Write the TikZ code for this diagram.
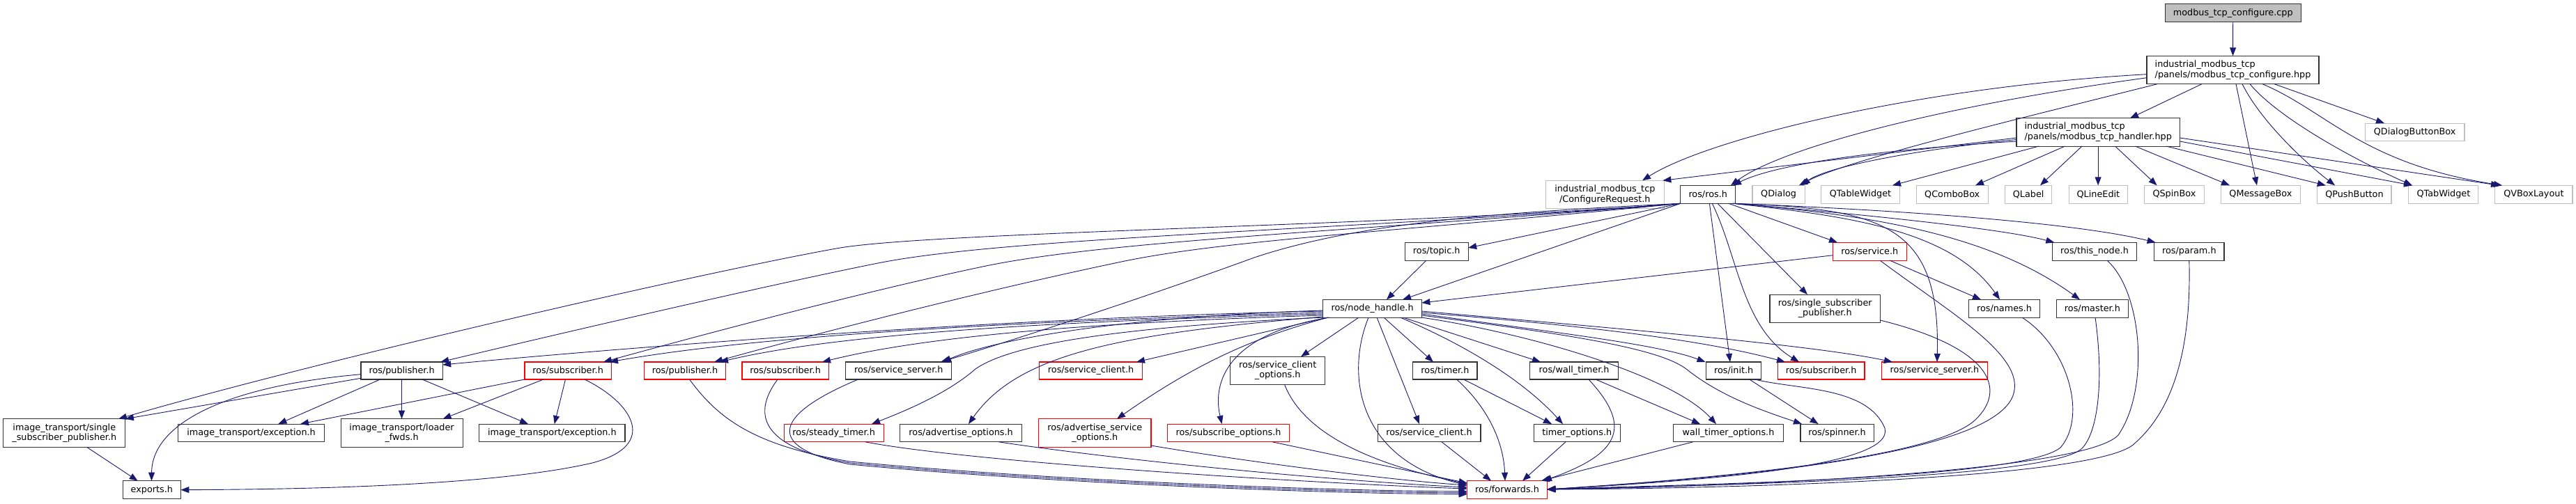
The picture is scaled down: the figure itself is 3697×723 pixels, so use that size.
\documentclass[tikz,border=0pt]{standalone}
\usepackage{fontspec}
\setmainfont{DejaVu Sans}
\usetikzlibrary{arrows.meta}
\definecolor{edgec}{HTML}{191970}
\definecolor{greyb}{HTML}{BFBFBF}
\newcommand\nf{\fontsize{12.8}{14.6}\selectfont}
\newcommand\mynode[7]{\node[#1, minimum width=#5pt, minimum height=#6pt] (#2) at (#3,#4) {#7};}
\begin{document}
\begin{tikzpicture}[x=1pt,y=-1pt,
  nb/.style={draw=black!80, line width=1.1pt, fill=white, inner sep=0pt, outer sep=0pt, font=\nf, align=center},
  ng/.style={nb, draw=greyb},
  nr/.style={nb, draw=red},
  ed/.style={draw=edgec, line width=0.9pt, -{Triangle[length=12pt,width=9pt]}}]
\useasboundingbox[fill=white] (0,0) rectangle (3697,723);
% ---------------- nodes ----------------
\mynode{nb,fill=greyb}{cpp}{3204.7}{18.7}{195}{26}{modbus\_tcp\_configure.cpp}
\mynode{nb,align=left}{conf}{3204.5}{100.5}{247}{40.4}{industrial\_modbus\_tcp\\/panels/modbus\_tcp\_configure.hpp}
\mynode{nb,align=left}{handler}{3011.2}{189.9}{234.5}{40.3}{industrial\_modbus\_tcp\\/panels/modbus\_tcp\_handler.hpp}
\mynode{ng}{qdbb}{3465.6}{189.7}{142.7}{25.3}{QDialogButtonBox}
\mynode{nb}{ros}{2451.2}{279.3}{78.6}{26}{ros/ros.h}
\mynode{ng}{qdialog}{2552.6}{279.3}{75.2}{26}{QDialog}
\mynode{ng}{qtable}{2670}{279.3}{112.3}{26}{QTableWidget}
\mynode{ng}{qcombo}{2801.7}{279.3}{102.8}{26}{QComboBox}
\mynode{ng}{qlabel}{2911.1}{279.3}{66.8}{26}{QLabel}
\mynode{ng}{qline}{3011.4}{279.3}{83.9}{26}{QLineEdit}
\mynode{ng}{qspin}{3120.4}{279.3}{85.3}{26}{QSpinBox}
\mynode{ng}{qmsg}{3244.4}{279.3}{114.7}{26}{QMessageBox}
\mynode{ng}{qpush}{3378.9}{279.3}{106.2}{26}{QPushButton}
\mynode{ng}{qtab}{3506.9}{279.3}{100}{26}{QTabWidget}
\mynode{ng}{qvbox}{3636.4}{279.3}{111.1}{26}{QVBoxLayout}
\mynode{ng}{confreq}{2303.3}{279.3}{170.1}{40}{industrial\_modbus\_tcp\\/ConfigureRequest.h}
\mynode{nb}{topic}{2061.7}{361.2}{90.9}{25.7}{ros/topic.h}
\mynode{nr}{service}{2683.3}{361.2}{105.6}{25.7}{ros/service.h}
\mynode{nb}{thisnode}{3006}{361.2}{121.4}{25.7}{ros/this\_node.h}
\mynode{nb}{param}{3141.8}{361.2}{100.4}{25.7}{ros/param.h}
\mynode{nb}{nodeh}{1969.6}{443.2}{141.5}{25.7}{ros/node\_handle.h}
\mynode{nb}{singlesub}{2619.2}{443.2}{158.5}{40.3}{ros/single\_subscriber\\\_publisher.h}
\mynode{nb}{names}{2876.5}{443.2}{102.8}{25.7}{ros/names.h}
\mynode{nb}{master}{3002.9}{443.2}{102.6}{25.7}{ros/master.h}
\mynode{nb}{pubB}{576.6}{532.5}{117.2}{25}{ros/publisher.h}
\mynode{nr}{subRa}{815.1}{532.5}{124.2}{25}{ros/subscriber.h}
\mynode{nr}{pubR}{983}{532.5}{117.5}{25}{ros/publisher.h}
\mynode{nr}{subRb}{1127.1}{532.5}{124.2}{25}{ros/subscriber.h}
\mynode{nb}{ssB}{1289.8}{532.5}{151.9}{25}{ros/service\_server.h}
\mynode{nr}{scR}{1565.6}{532.5}{148.3}{25}{ros/service\_client.h}
\mynode{nb}{sco}{1833.7}{532.3}{135.8}{40}{ros/service\_client\\\_options.h}
\mynode{nb}{timer}{2073.9}{532.5}{92.1}{25}{ros/timer.h}
\mynode{nb}{walltimer}{2259.1}{532.5}{126.5}{25}{ros/wall\_timer.h}
\mynode{nb}{init}{2488.2}{532.5}{79.1}{25}{ros/init.h}
\mynode{nr}{subRc}{2613.7}{532.5}{124.6}{25}{ros/subscriber.h}
\mynode{nr}{ssR}{2776.5}{532.5}{151.9}{25}{ros/service\_server.h}
\mynode{nb}{itsingle}{92.3}{622}{175.2}{40.6}{image\_transport/single\\\_subscriber\_publisher.h}
\mynode{nb}{itexca}{360.6}{621.9}{209.6}{25.7}{image\_transport/exception.h}
\mynode{nb}{itloader}{576.6}{622}{175}{40.6}{image\_transport/loader\\\_fwds.h}
\mynode{nb}{itexcb}{792.4}{621.9}{209.2}{25.7}{image\_transport/exception.h}
\mynode{nr}{steady}{1196.6}{621.9}{142.9}{25.7}{ros/steady\_timer.h}
\mynode{nb}{advopt}{1379.1}{621.9}{174.8}{25.7}{ros/advertise\_options.h}
\mynode{nr}{advsrv}{1571.3}{622}{161.4}{40.6}{ros/advertise\_service\\\_options.h}
\mynode{nr}{subopt}{1763}{621.9}{174.5}{25.7}{ros/subscribe\_options.h}
\mynode{nb}{scB}{2051}{621.9}{147.9}{25.7}{ros/service\_client.h}
\mynode{nb}{timeropt}{2263.2}{621.9}{123.8}{25.7}{timer\_options.h}
\mynode{nb}{walltimeropt}{2480.5}{621.9}{158.5}{25.7}{wall\_timer\_options.h}
\mynode{nb}{spinner}{2636.5}{621.9}{105.1}{25.7}{ros/spinner.h}
\mynode{nb}{exports}{217.9}{703.7}{83}{26}{exports.h}
\mynode{nr}{forwards}{2163}{703.7}{114.7}{26}{ros/forwards.h}
% ---------------- edges ----------------
\draw[ed] (cpp) -- (conf);
\draw[ed] (conf.south -| 3160,0) -- (handler.north -| 3057,0);
\draw[ed] (conf.south -| 3209,0) -- (qmsg.north -| 3239,0);
\draw[ed] (conf.south -| 3218,0) .. controls (3245,175) and (3310,235) .. (qpush.north -| 3351,0);
\draw[ed] (conf.south -| 3229,0) .. controls (3270,170) and (3380,230) .. (qtab.north -| 3462,0);
\draw[ed] (conf.south -| 3247,0) .. controls (3340,160) and (3390,235) .. (qvbox.north -| 3591,0);
\draw[ed] (conf.south -| 3264,0) -- (qdbb.north -| 3422,0);
\draw[ed] (conf.west |- 0,106.7) .. controls (2750,125) and (2450,200) .. (confreq.north -| 2357,0);
\draw[ed] (conf.west |- 0,111.7) .. controls (2800,150) and (2560,210) .. (ros.north -| 2484,0);
\draw[ed] (conf.south -| 3096,0) .. controls (2900,170) and (2650,230) .. (qdialog.north -| 2582,0);
\draw[ed] (handler.west |- 0,198) -- ([xshift=-2pt]confreq.north east);
\draw[ed] (handler.west |- 0,203) .. controls (2700,215) and (2550,235) .. (ros.north -| 2487,0);
\draw[ed] (handler.west |- 0,200.5) .. controls (2750,215) and (2620,240) .. (qdialog.north -| 2586,0);
\draw[ed] (handler.south -| 2926,0) -- (qtable.north -| 2716,0);
\draw[ed] (handler.south -| 2963.5,0) -- (qcombo.north -| 2835,0);
\draw[ed] (handler.south -| 2988,0) -- (qlabel.north -| 2928,0);
\draw[ed] (handler.south -| 3011.1,0) -- (qline.north -| 3011.1,0);
\draw[ed] (handler.south -| 3035.6,0) -- (qspin.north -| 3095.6,0);
\draw[ed] (handler.south -| 3064.4,0) -- (qmsg.north -| 3200,0);
\draw[ed] (handler.south -| 3108.9,0) -- (qpush.north -| 3337.8,0);
\draw[ed] (handler.east |- 0,203) -- (qtab.north -| 3462,0);
\draw[ed] (handler.east |- 0,198) -- (qvbox.north -| 3587,0);
% ros.h
\draw[ed] (ros.south -| 2453.4,0) -- (init.north -| 2483,0);
\draw[ed] (ros.south -| 2457.3,0) .. controls (2495,370) and (2500,470) .. (subRc.north -| 2582,0);
\draw[ed] (ros.south -| 2465,0) -- (singlesub.north -| 2594,0);
\draw[ed] (ros.south -| 2481,0) -- (service.north -| 2637,0);
\draw[ed] (ros.south -| 2486,0) .. controls (2700,300) and (2785,320) .. (ssR.north -| 2780,0);
\draw[ed] (ros.south -| 2487,0) .. controls (2650,310) and (2800,330) .. (names.north -| 2870,0);
\draw[ed] (ros.south -| 2488,0) .. controls (2700,310) and (2860,340) .. (master.north -| 2985,0);
\draw[ed] (ros.south -| 2489,0) .. controls (2700,310) and (2880,330) .. ([xshift=3pt]thisnode.north west);
\draw[ed] (ros.south -| 2490,0) .. controls (2800,305) and (3000,325) .. ([xshift=2pt]param.north west);
\draw[ed] (ros.south west) -- (topic.east |- 0,356);
\draw[ed] (ros.south west) -- (nodeh.north -| 2013,0);
\draw[ed] (ros.south west) .. controls (2000,325) and (1330,333) .. (1200,357) .. controls (1000,393) and (450,520) .. (itsingle.north -| 170,0);
\draw[ed] (ros.south west) .. controls (1950,330) and (1450,340) .. (1260,378) .. controls (1100,410) and (800,480) .. ([xshift=-3pt]pubB.north east);
\draw[ed] (ros.south west) .. controls (1950,332) and (1600,345) .. (1420,381) .. controls (1250,416) and (1000,483) .. (subRa.north -| 866,0);
\draw[ed] (ros.south west) .. controls (1980,335) and (1750,345) .. (1600,378) .. controls (1400,420) and (1150,485) .. (pubR.north -| 1025,0);
\draw[ed] (ros.south west) .. controls (2150,305) and (1950,320) .. (1800,370) .. controls (1650,425) and (1450,490) .. (ssB.north -| 1350,0);
% node_handle.h
\draw[ed] (topic.south -| 2047,0) -- (nodeh.north -| 1990,0);
\draw[ed] (service.west |- 0,366.7) -- (nodeh.east |- 0,435);
\draw[ed] (service.south -| 2712,0) -- (names.north -| 2843,0);
\draw[ed] (nodeh.west |- 0,447) .. controls (1500,455) and (1000,490) .. (pubB.east |- 0,524);
\draw[ed] (nodeh.west |- 0,449) .. controls (1500,460) and (1100,480) .. (subRa.north -| 875,0);
\draw[ed] (nodeh.west |- 0,451) .. controls (1500,462) and (1200,480) .. (pubR.north -| 1033,0);
\draw[ed] (nodeh.west |- 0,453) .. controls (1500,465) and (1300,490) .. (subRb.north -| 1180,0);
\draw[ed] (nodeh.west |- 0,446) .. controls (1600,455) and (1420,490) .. (ssB.north -| 1353,0);
\draw[ed] (nodeh.south -| 1905,0) -- (scR.north -| 1631,0);
\draw[ed] (nodeh.south -| 1906,0) .. controls (1800,485) and (1720,520) .. (advsrv.north -| 1603,0);
\draw[ed] (nodeh.south -| 1908,0) .. controls (1760,480) and (1740,550) .. (subopt.north -| 1753.6,0);
\draw[ed] (nodeh.west |- 0,455) .. controls (1600,480) and (1460,510) .. (advopt.north -| 1390,0);
\draw[ed] (nodeh.south west) .. controls (1600,470) and (1450,495) .. (1400,530) .. controls (1360,565) and (1300,590) .. (steady.north -| 1251,0);
\draw[ed] (nodeh.south -| 1950,0) -- (sco.north -| 1867,0);
\draw[ed] (nodeh.south -| 1964,0) .. controls (1930,540) and (1950,660) .. (forwards.west |- 0,697);
\draw[ed] (nodeh.south -| 1976,0) -- (scB.north -| 2037,0);
\draw[ed] (nodeh.south -| 1986,0) -- (timer.north -| 2057,0);
\draw[ed] (nodeh.south -| 2009.6,0) .. controls (2090,490) and (2180,540) .. (timeropt.north -| 2243,0);
\draw[ed] (nodeh.south -| 2013.5,0) -- (walltimer.north -| 2211,0);
\draw[ed] (nodeh.east |- 0,447) .. controls (2300,470) and (2600,495) .. (ssR.north -| 2716,0);
\draw[ed] (nodeh.east |- 0,449) .. controls (2300,470) and (2450,490) .. (subRc.north -| 2562,0);
\draw[ed] (nodeh.east |- 0,451) .. controls (2250,480) and (2380,495) .. (init.north -| 2447.5,0);
\draw[ed] (nodeh.east |- 0,453) .. controls (2250,480) and (2380,500) .. (2420,530) .. controls (2470,570) and (2530,590) .. (spinner.north -| 2586,0);
\draw[ed] (nodeh.south east) .. controls (2200,480) and (2400,540) .. (walltimeropt.north -| 2463,0);
% to forwards.h
\draw[ed] (service.south -| 2698,0) .. controls (2800,450) and (2905,510) .. (2890,565) .. controls (2870,640) and (2600,680) .. (forwards.east |- 0,703);
\draw[ed] (singlesub.east |- 0,460) .. controls (2860,500) and (2880,560) .. (2835,603) .. controls (2780,655) and (2500,685) .. (forwards.east |- 0,703);
\draw[ed] (init.south -| 2518.6,0) .. controls (2580,560) and (2680,555) .. (2705,615) .. controls (2720,670) and (2450,690) .. (forwards.east |- 0,703);
\draw[ed] (names.south -| 2902,0) .. controls (2970,500) and (2995,600) .. (2957,643) .. controls (2900,690) and (2400,696) .. (forwards.east |- 0,703);
\draw[ed] (master.south -| 3007,0) .. controls (3020,550) and (3010,620) .. (2989,643) .. controls (2950,690) and (2400,698) .. (forwards.east |- 0,703);
\draw[ed] (thisnode.south -| 3024,0) .. controls (3075,420) and (3085,560) .. (3040,625) .. controls (2990,680) and (2450,700) .. (forwards.east |- 0,703);
\draw[ed] (param.south) .. controls (3145,500) and (3120,590) .. (3060,640) .. controls (2990,690) and (2450,702) .. (forwards.east |- 0,703);
\draw[ed] (walltimer.south -| 2280,0) .. controls (2340,610) and (2330,650) .. (forwards.north -| 2215,0);
\draw[ed] (walltimeropt.south -| 2430,0) -- (forwards.north -| 2212,0);
\draw[ed] (timeropt.south -| 2247,0) -- (forwards.north -| 2185,0);
\draw[ed] (timer.south -| 2090.6,0) .. controls (2140,590) and (2158,640) .. (forwards.north -| 2160,0);
\draw[ed] (timer.south -| 2100.5,0) -- (timeropt.north -| 2227,0);
\draw[ed] (scB.south -| 2069,0) -- (forwards.north -| 2140,0);
\draw[ed] (walltimer.south -| 2290,0) -- (walltimeropt.north -| 2440,0);
\draw[ed] (init.south -| 2510.7,0) -- (spinner.north -| 2609.6,0);
\draw[ed] (sco.south -| 1843.5,0) .. controls (1870,620) and (1960,665) .. (forwards.west |- 0,695);
\draw[ed] (subopt.south -| 1825.7,0) -- (forwards.west |- 0,694);
\draw[ed] (advsrv.east |- 0,640) .. controls (1800,665) and (2000,690) .. (forwards.west |- 0,697);
\draw[ed] (advopt.south -| 1433,0) .. controls (1600,660) and (1900,690) .. (forwards.west |- 0,700);
\draw[ed] (steady.south -| 1241.5,0) .. controls (1400,665) and (1900,695) .. (forwards.west |- 0,702);
\draw[ed] (pubR.south -| 989.5,0) .. controls (1030,600) and (1080,640) .. (1220,663) .. controls (1500,690) and (1900,705) .. (forwards.west |- 0,706);
\draw[ed] (subRb.south -| 1116,0) .. controls (1075,600) and (1100,645) .. (1220,665) .. controls (1500,692) and (1900,707) .. (forwards.west |- 0,708);
\draw[ed] (ssB.south -| 1231.6,0) .. controls (1100,600) and (1105,645) .. (1220,667) .. controls (1500,694) and (1900,709) .. (forwards.west |- 0,710);
% image_transport
\draw[ed] (itsingle.south -| 124.6,0) -- (exports.north -| 197.7,0);
\draw[ed] (pubB.west |- 0,537.7) .. controls (320,555) and (218,610) .. (exports.north -| 217.5,0);
\draw[ed] (pubB.west |- 0,543.3) -- (itsingle.north east);
\draw[ed] (pubB.south -| 545.7,0) -- (itexca.north -| 399.4,0);
\draw[ed] (pubB.south -| 576.5,0) -- (itloader.north -| 576.5,0);
\draw[ed] (pubB.south -| 605.9,0) -- (itexcb.north -| 758,0);
\draw[ed] (subRa.south west) -- (itexca.north -| 431,0);
\draw[ed] (subRa.south -| 780,0) -- (itloader.north -| 635.6,0);
\draw[ed] (subRa.south -| 811.5,0) -- (itexcb.north -| 795.7,0);
\draw[ed] (subRa.south -| 839,0) .. controls (910,580) and (945,640) .. (850,665) .. controls (700,700) and (400,703) .. (exports.east |- 0,703.7);
\end{tikzpicture}
\end{document}
